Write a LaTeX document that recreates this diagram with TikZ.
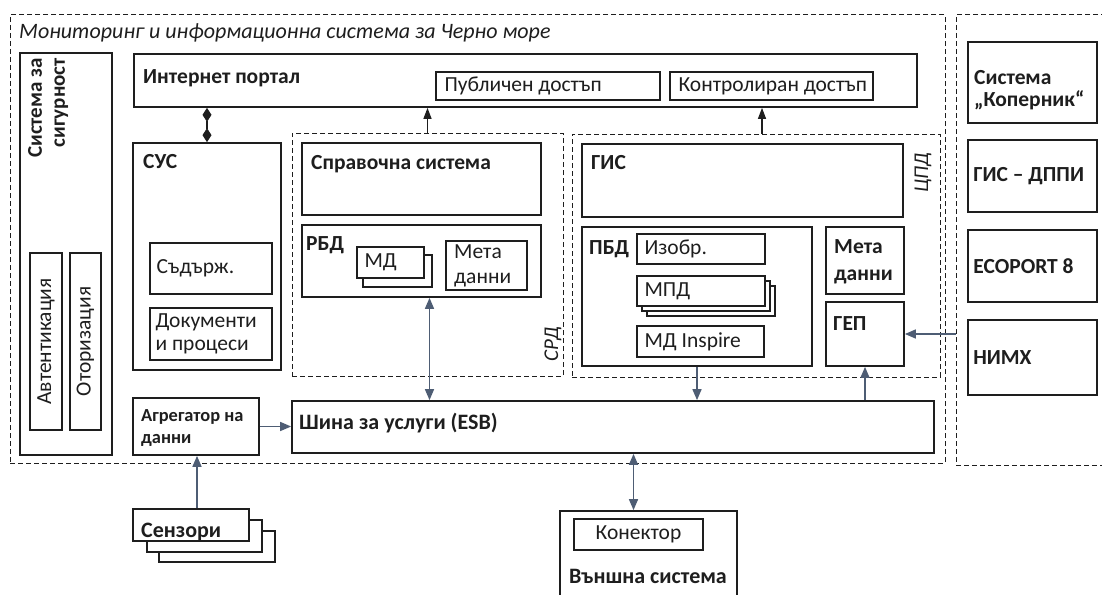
\documentclass[tikz,border=0pt]{standalone}
\usepackage{fontspec}
\setmainfont{Carlito}
\usetikzlibrary{arrows.meta,fit,calc}
\definecolor{slate}{HTML}{4E5D74}
\definecolor{ink}{HTML}{1E1E1E}
\newcommand\rbox[6]{\node[#1, fit={(#3,#4)(#5,#6)}] (#2) {};}
\begin{document}
\begin{tikzpicture}[x=1pt,y=-1pt,
  box/.style={draw=ink, line width=1.7pt, fill=white, inner sep=0pt},
  ibox/.style={draw=ink, line width=1.3pt, fill=white, inner sep=0pt},
  dbox/.style={draw=ink, line width=1pt, dash pattern=on 5pt off 3pt, inner sep=0pt},
  hd/.style={font=\bfseries\fontsize{21.5}{24}\selectfont, inner sep=0pt, text=ink},
  hds/.style={font=\bfseries\fontsize{18.4}{22}\selectfont, inner sep=0pt, text=ink, align=left},
  tx/.style={font=\fontsize{21.5}{23}\selectfont, inner sep=0pt, text=ink},
  lbl/.style={font=\itshape\fontsize{21}{24}\selectfont, inner sep=0pt, text=ink},
  conn/.style={draw=slate, line width=1.5pt},
  sarrow/.style={-{Triangle[length=11pt,width=9pt]}, conn},
  sboth/.style={{Triangle[length=11pt,width=9pt]}-{Triangle[length=11pt,width=9pt]}, conn},
  karrow/.style={-{Triangle[length=11pt,width=8pt]}, draw=ink, line width=1.2pt},
]
\useasboundingbox (0,0) rectangle (1102,594);

% outer dashed containers
\rbox{dbox}{main}{10}{15}{945}{463}
\rbox{dbox}{ext}{956}{15}{1130}{465}
\node[lbl, anchor=base west, font=\itshape\fontsize{22}{24}\selectfont] (title) at (19,38) {Мониторинг и информационна система за Черно море};

% security column
\rbox{box}{sec}{20}{53}{112}{455}
\node[hd, rotate=90, anchor=north east, align=right, font=\bfseries\fontsize{21}{23}\selectfont] (sect) at (28,58) {Система за\\сигурност};
\rbox{ibox}{auth}{30}{253}{62}{430}
\node[tx, rotate=90] (autht) at (auth.center) {Автентикация};
\rbox{ibox}{authz}{70}{253}{101}{430}
\node[tx, rotate=90] (authzt) at (authz.center) {Оторизация};

% internet portal
\rbox{box}{portal}{134}{54}{917}{107}
\node[hd, anchor=base west] (portalt) at (143,83) {Интернет портал};
\rbox{ibox}{pub}{436}{72}{660}{100}
\node[tx, anchor=west] (pubt) at ([xshift=9pt]pub.west) {Публичен достъп};
\rbox{ibox}{ctrl}{670}{72}{873}{100}
\node[tx, anchor=west] (ctrlt) at ([xshift=9pt]ctrl.west) {Контролиран достъп};

% СУС
\rbox{box}{sus}{133}{143}{281}{370}
\node[hd, anchor=base west] (sust) at (143,168) {СУС};
\rbox{ibox}{cont}{150}{243}{272}{294}
\node[tx, anchor=west] (contt) at ([xshift=7pt]cont.west) {Съдърж.};
\rbox{ibox}{docs}{150}{308}{272}{360}
\node[tx, anchor=west, align=left, font=\fontsize{21.5}{23}\selectfont] (docst) at ([xshift=6pt]docs.west) {Документи\\и процеси};

% aggregator
\rbox{box}{agg}{133}{398}{259}{455}
\node[hds, anchor=base west] (aggt) at (141,443) {Агрегатор на\\данни};

% СРД
\rbox{dbox}{srd}{292}{133}{563}{376}
\node[lbl] (srdt) [rotate=90] at (553,344) {СРД};
\rbox{box}{spr}{302}{143}{541}{215}
\node[hd, anchor=base west] (sprt) at (311,169) {Справочна система};
\rbox{box}{rbd}{302}{225}{541}{297}
\node[hd, anchor=base west] (rbdt) at (306,250) {РБД};
\rbox{ibox}{md2}{363}{255}{432}{287}
\rbox{ibox}{md1}{357}{247}{424}{278}
\node[tx, anchor=west] (mdt) at ([xshift=8pt]md1.west) {МД};
\rbox{ibox}{meta1}{446}{241}{527}{290}
\node[tx, anchor=base west, align=left, font=\fontsize{21.5}{25}\selectfont] (meta1t) at (454,283) {Мета\\данни};

% ЦПД
\rbox{dbox}{cpd}{572}{134}{940}{377}
\node[lbl, rotate=90] (cpdt) at (923,173) {ЦПД};
\rbox{box}{gis}{582}{144}{903}{217}
\node[hd, anchor=base west] (gist) at (591,169) {ГИС};
\rbox{box}{pbd}{582}{227}{812}{366}
\node[hd, anchor=base west] (pbdt) at (589,254) {ПБД};
\rbox{ibox}{img}{637}{234}{765}{264}
\node[tx, anchor=west] (imgt) at ([xshift=8pt]img.west) {Изобр.};
\rbox{ibox}{mpd3}{647}{286}{775}{316}
\rbox{ibox}{mpd2}{642}{281}{770}{311}
\rbox{ibox}{mpd1}{637}{276}{765}{306}
\node[tx, anchor=west] (mpdt) at ([xshift=8pt]mpd1.west) {МПД};
\rbox{ibox}{insp}{637}{326}{764}{357}
\node[tx, anchor=west] (inspt) at ([xshift=8pt]insp.west) {МД Inspire};
\rbox{box}{meta2}{826}{227}{904}{294}
\node[hd, anchor=base west, align=left, font=\bfseries\fontsize{21.5}{27}\selectfont] (meta2t) at (834,280) {Мета\\данни};
\rbox{box}{gep}{826}{302}{904}{366}
\node[hd, anchor=base west] (gept) at (833,330) {ГЕП};

% ESB
\rbox{box}{esb}{292}{401}{934}{453}
\node[hd, anchor=base west, font=\bfseries\fontsize{22}{24}\selectfont] (esbt) at (299,429) {Шина за услуги (ESB)};

% external systems
\rbox{box}{kop}{968}{42}{1097}{123}
\node[hd, anchor=base west, align=left, font=\bfseries\fontsize{21.5}{22}\selectfont] (kopt) at (974,106) {Система\\„Коперник“};
\rbox{box}{dppi}{968}{140}{1097}{212}
\node[hd, anchor=west] (dppit) at ([xshift=6pt]dppi.west) {ГИС – ДППИ};
\rbox{box}{eco}{968}{230}{1097}{302}
\node[hd, anchor=west] (ecot) at ([xshift=6pt]eco.west) {ECOPORT 8};
\rbox{box}{nimh}{968}{320}{1097}{395}
\node[hd, anchor=west] (nimht) at ([xshift=6pt]nimh.west) {НИМХ};

% sensors
\rbox{box}{sen3}{159}{531}{275}{562}
\rbox{box}{sen2}{147}{520}{262}{552}
\rbox{box}{sen1}{133}{509}{249}{541}
\node[hd, anchor=base west, font=\bfseries\fontsize{22}{24}\selectfont] (sent) at (141,537) {Сензори};

% external system
\rbox{box}{vn}{560}{511}{737}{610}
\rbox{ibox}{konn}{574}{519}{703}{550}
\node[tx] (konnt) at (konn.center) {Конектор};
\node[hd, anchor=base, font=\bfseries\fontsize{22}{24}\selectfont] (vnt) at (648,583) {Външна система};

% connectors
\draw[{Diamond[length=14pt,width=9pt]}-{Diamond[length=14pt,width=9pt]}, draw=ink, line width=1.2pt] (sus.north) -- (sus.north |- portal.south);
\draw[karrow] (srd.north) -- (srd.north |- portal.south);
\coordinate (cpdtop) at ([xshift=6pt]cpd.north);
\draw[karrow] (cpdtop) -- (cpdtop |- portal.south);
\coordinate (rbdbot) at ([xshift=8pt]rbd.south);
\draw[sboth] (rbdbot) -- (rbdbot |- esb.north);
\draw[sarrow] (pbd.south) -- (pbd.south |- esb.north);
\coordinate (geptarget) at (gep.south);
\draw[sarrow] (gep.south |- esb.north) -- (geptarget);
\draw[sarrow] (ext.west |- gep.east) -- (gep.east);
\draw[sarrow] (agg.east) -- (agg.east -| esb.west);
\coordinate (sentop) at ([xshift=6pt]sen1.north);
\draw[sarrow] (sentop) -- (sentop |- agg.south);
\coordinate (vntop) at ([xshift=-15pt]vn.north);
\draw[sboth] (vntop) -- (vntop |- esb.south);
\end{tikzpicture}
\end{document}
